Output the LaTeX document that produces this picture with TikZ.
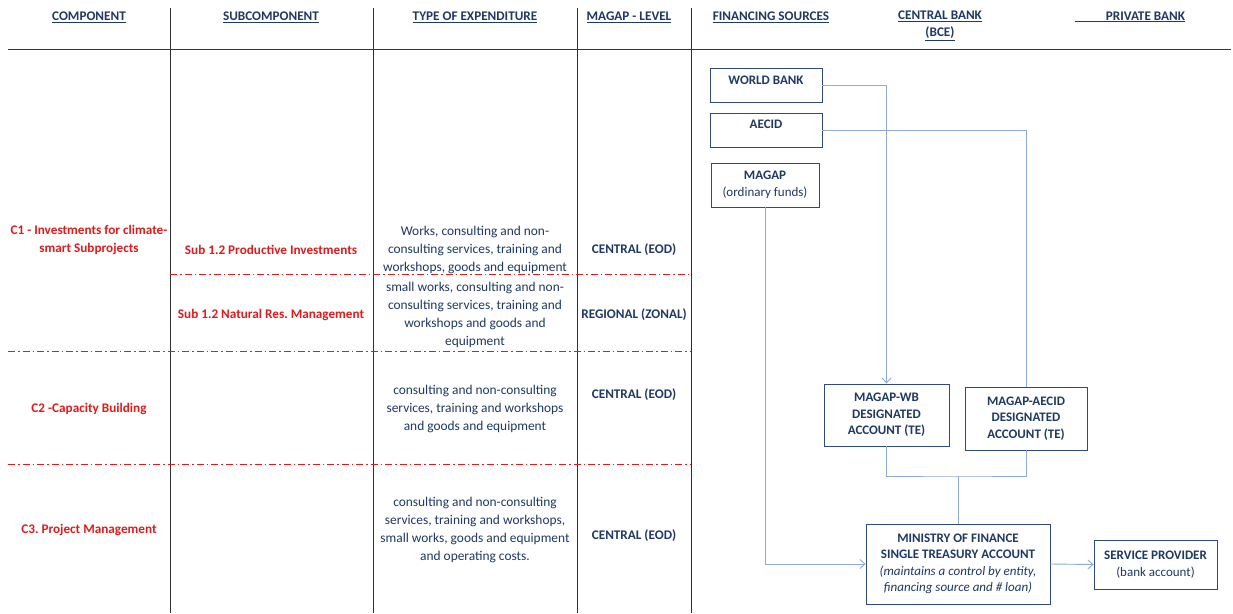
\documentclass[tikz,border=0pt]{standalone}
\usepackage{fontspec}
\setmainfont{Carlito}
\usetikzlibrary{arrows.meta}
\definecolor{navy}{HTML}{1F3864}
\definecolor{redt}{HTML}{E01B1B}
\definecolor{conn}{HTML}{8EAADB}
\definecolor{boxc}{HTML}{2F4A7C}
\definecolor{gridc}{HTML}{303030}
\begin{document}
\begin{tikzpicture}[x=1pt,y=-1pt,
  hdr/.style={font=\fontsize{13.2}{17}\selectfont\bfseries, text=navy, align=center, inner sep=0pt},
  body/.style={font=\fontsize{13.4}{18}\selectfont, text=navy, align=center, inner sep=0pt},
  lvl/.style={font=\fontsize{13.2}{18}\selectfont\bfseries, text=navy, align=center, inner sep=0pt},
  redlab/.style={font=\fontsize{13.2}{18}\selectfont\bfseries, text=redt, align=center, inner sep=0pt},
  fbox/.style={draw=boxc, line width=0.9pt, align=center, text=navy, inner sep=1pt,
     font=\fontsize{13}{16.5}\selectfont\bfseries},
  grid/.style={draw=gridc, line width=0.8pt},
  dd/.style={draw=redt, line width=0.8pt, dash pattern=on 7pt off 3pt on 1.5pt off 3pt},
  conn/.style={draw=conn, line width=0.9pt},
  arr/.style={conn, -{Straight Barb[length=5pt,width=9pt]}}]
\useasboundingbox (0,0) rectangle (1233,613);
\fill[white] (0,0) rectangle (1233,613);
% grid
\draw[grid] (170,8) -- (170,613);
\draw[grid] (373,8) -- (373,613);
\draw[grid] (577,8) -- (577,613);
\draw[grid] (691,8) -- (691,613);
\draw[draw=navy, line width=1pt] (8,49) -- (1231,49);
\draw[dd] (170,274) -- (691,274);
\draw[dd] (8,351) -- (691,351);
\draw[dd] (8,464) -- (691,464);
% headers
\node[hdr] (h1) at (89,17) {\underline{COMPONENT}};
\node[hdr] (h2) at (271,17) {\underline{SUBCOMPONENT}};
\node[hdr] (h3) at (475,17) {\underline{TYPE OF EXPENDITURE}};
\node[hdr] (h4) at (629,17) {\underline{MAGAP - LEVEL}};
\node[hdr] (h5) at (771,17) {\underline{FINANCING SOURCES}};
\node[hdr, anchor=north] (h6) at (940,11) {\underline{CENTRAL BANK}\\\underline{(BCE)}};
\node[hdr] (h7) at (1130,17) {\underline{\hspace{31pt}PRIVATE BANK}};
% left column
\node[redlab] (c1) at (89,240) {C1 - Investments for climate-\\smart Subprojects};
\node[redlab] (c2) at (89,409) {C2 -Capacity Building};
\node[redlab] (c3) at (89,530) {C3.\ Project Management};
\node[redlab] (s1) at (271,250) {Sub 1.2 Productive Investments};
\node[redlab] (s2) at (271,315) {Sub 1.2 Natural Res.\ Management};
\node[body] (t1) at (475,250) {Works, consulting and non-\\consulting services, training and\\workshops, goods and equipment};
\node[body] (t2) at (475,315) {small works, consulting and non-\\consulting services, training and\\workshops and goods and\\equipment};
\node[body] (t3) at (475,409) {consulting and non-consulting\\services, training and workshops\\and goods and equipment};
\node[body] (t4) at (475,530) {consulting and non-consulting\\services, training and workshops,\\small works, goods and equipment\\and operating costs.};
\node[lvl] (l1) at (634,250) {CENTRAL (EOD)};
\node[lvl] (l2) at (634,315) {REGIONAL (ZONAL)};
\node[lvl] (l3) at (634,395) {CENTRAL (EOD)};
\node[lvl] (l4) at (634,536) {CENTRAL (EOD)};
% flow boxes
\node[fbox, minimum width=112pt, minimum height=34pt, text depth=10pt] (wb) at (766,85) {WORLD BANK};
\node[fbox, minimum width=112pt, minimum height=34pt, text depth=11pt] (ae) at (766,130) {AECID};
\node[fbox, minimum width=108pt, minimum height=44pt] (mg) at (765,185) {MAGAP\\\mdseries(ordinary funds)};
\node[fbox, minimum width=125pt, minimum height=62pt] (wbda) at (886.5,415) {MAGAP-WB\\DESIGNATED\\ACCOUNT (TE)};
\node[fbox, minimum width=122pt, minimum height=63pt] (aeda) at (1026,418.5) {MAGAP-AECID\\DESIGNATED\\ACCOUNT (TE)};
\node[fbox, minimum width=184pt, minimum height=80pt] (mof) at (958,564) {MINISTRY OF FINANCE\\SINGLE TREASURY ACCOUNT\\\mdseries\itshape (maintains a control by entity,\\\mdseries\itshape financing source and \# loan)};
\node[fbox, minimum width=123pt, minimum height=49pt] (sp) at (1155.5,564.5) {SERVICE PROVIDER\\\mdseries(bank account)};
% connectors
\draw[arr] (wb.east) -| (wbda.north);
\draw[conn] (ae.east) -| (aeda.north);
\coordinate (j) at (958,476);
\draw[conn] (wbda.south) |- (j) -| (aeda.south);
\draw[conn] (j) -- (mof.north);
\draw[arr] (mg.south) |- (mof.west);
\draw[arr] (mof.east) -- (sp.west);
\end{tikzpicture}
\end{document}
